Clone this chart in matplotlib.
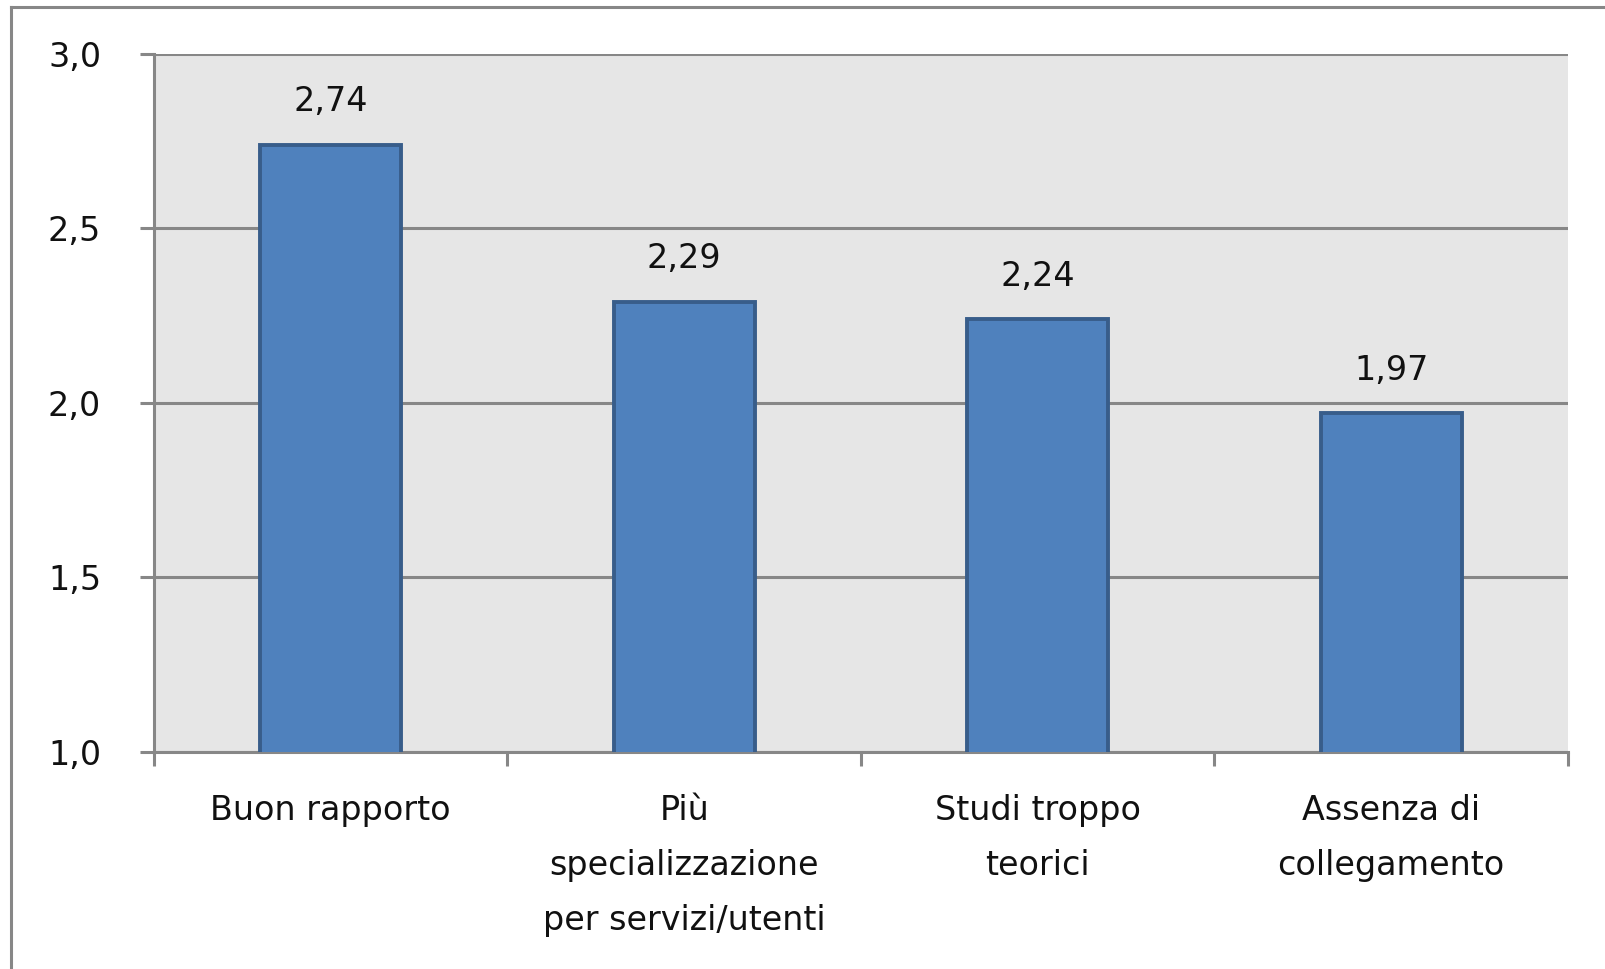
import matplotlib
matplotlib.use("Agg")
import matplotlib.pyplot as plt
from matplotlib.lines import Line2D
from matplotlib.ticker import FuncFormatter, FixedLocator

categories = [
    "Buon rapporto",
    "Più\nspecializzazione\nper servizi/utenti",
    "Studi troppo\nteorici",
    "Assenza di\ncollegamento",
]
values = [2.74, 2.29, 2.24, 1.97]
y_ticks = [1.0, 1.5, 2.0, 2.5, 3.0]

GRAY = "#878787"
BAR = "#4f81bd"
BAR_EDGE = "#385d8a"
FONT = "DejaVu Sans"
FS = 24

plt.rcParams["font.family"] = [FONT]

fig = plt.figure(figsize=(16.06, 9.69), dpi=100)
ax = fig.add_axes([0.0959, 0.224, 0.9763 - 0.0959, 0.9443 - 0.224])
ax.set_facecolor("#e6e6e6")

x = list(range(len(categories)))
ax.bar(x, values, width=0.40, color=BAR, edgecolor=BAR_EDGE, linewidth=2.8, zorder=3)

for xi, v in zip(x, values):
    ax.annotate(f"{v:.2f}".replace(".", ","), (xi, v), xytext=(0, 19),
                textcoords="offset points", ha="center", va="bottom",
                fontsize=FS, color="#111111")

ax.set_xlim(-0.5, len(categories) - 0.5)
ax.set_ylim(1.0, 3.0)
ax.set_yticks(y_ticks)
ax.yaxis.set_major_formatter(FuncFormatter(lambda v, _: f"{v:.1f}".replace(".", ",")))
ax.grid(axis="y", color=GRAY, linewidth=2.2, zorder=1)
ax.set_axisbelow(True)

ax.set_xticks(x)
ax.set_xticklabels(categories, linespacing=1.85)
ax.xaxis.set_minor_locator(FixedLocator([i - 0.5 for i in range(len(categories) + 1)]))
ax.tick_params(axis="x", which="major", length=0, pad=30, labelsize=FS, labelcolor="#111111")
ax.tick_params(axis="x", which="minor", length=10, width=2.2, color=GRAY, direction="out")
ax.tick_params(axis="y", length=10, width=2.2, color=GRAY, pad=28, labelsize=FS, labelcolor="#111111")

for s in ["top", "right"]:
    ax.spines[s].set_visible(False)
for s in ["left", "bottom"]:
    ax.spines[s].set_color(GRAY)
    ax.spines[s].set_linewidth(2.2)

# outer chart border (left and top only, the image is cropped)
fig.add_artist(Line2D([0.0068, 0.0068], [0, 0.9928], transform=fig.transFigure, color=GRAY, linewidth=2.2))
fig.add_artist(Line2D([0.0068, 1.0], [0.9928, 0.9928], transform=fig.transFigure, color=GRAY, linewidth=2.2))

fig.savefig("out.png", dpi=100, facecolor="white")
